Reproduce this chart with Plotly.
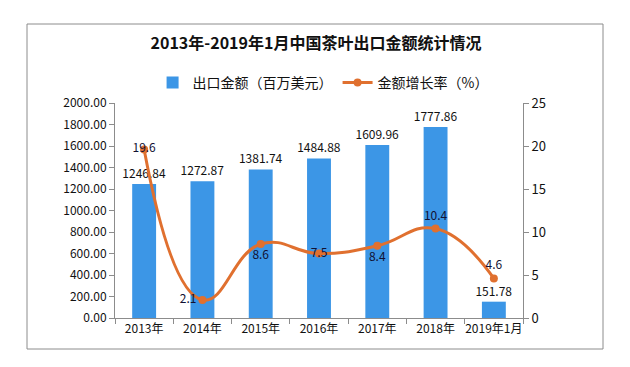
import plotly.graph_objects as go

categories = ["2013年", "2014年", "2015年", "2016年", "2017年", "2018年", "2019年1月"]
export_values = [1246.84, 1272.87, 1381.74, 1484.88, 1609.96, 1777.86, 151.78]
growth_rates = [19.6, 2.1, 8.6, 7.5, 8.4, 10.4, 4.6]
y1_ticks = [0, 200, 400, 600, 800, 1000, 1200, 1400, 1600, 1800, 2000]
y1_ticktext = ["%.2f" % v for v in y1_ticks]
y2_ticks = [0, 5, 10, 15, 20, 25]

FONT = "Noto Sans CJK SC"
BLUE = "#3C96E6"
ORANGE = "#E0702F"
AXIS = "#8C8C8C"

fig = go.Figure()
fig.add_trace(go.Bar(
    x=categories, y=export_values, name="出口金额（百万美元）",
    marker=dict(color=BLUE, line=dict(width=0)), width=0.41,
    text=["%.2f" % v for v in export_values], textposition="outside",
    constraintext="none",
    textfont=dict(size=12, color="#111111", family=FONT), cliponaxis=False,
))
fig.add_trace(go.Scatter(
    x=categories, y=growth_rates, name="金额增长率（%）", yaxis="y2",
    mode="lines+markers+text", line=dict(color=ORANGE, width=3, shape="spline", smoothing=1.3),
    marker=dict(color=ORANGE, size=8),
    text=[str(v) for v in growth_rates],
    textposition=["middle center", "middle left", "bottom center", "middle center",
                  "bottom center", "top center", "top center"],
    textfont=dict(size=12, color="#111133", family=FONT), cliponaxis=False,
))

fig.update_layout(
    width=630, height=367,
    margin=dict(l=107, r=115, t=95, b=57),
    paper_bgcolor="white", plot_bgcolor="white",
    font=dict(family=FONT, size=12, color="#111111"),
    title=dict(text="<b>2013年-2019年1月中国茶叶出口金额统计情况</b>",
               x=(308 / 630), xanchor="center", y=1 - 35 / 367, yanchor="middle",
               font=dict(size=16, color="#111111", family=FONT)),
    showlegend=True,
    legend=dict(orientation="h", x=0.51, xanchor="center", y=1.093, yanchor="middle",
                font=dict(size=14, family=FONT), bgcolor="rgba(0,0,0,0)",
                itemwidth=30),
    bargap=0.59,
    xaxis=dict(type="category", showline=True, linecolor=AXIS, linewidth=1,
               ticks="outside", ticklen=5, tickcolor=AXIS, tickson="boundaries",
               tickangle=0, showgrid=False, tickfont=dict(size=12), zeroline=False),
    yaxis=dict(range=[0, 2000], tickvals=y1_ticks, ticktext=y1_ticktext,
               showline=True, linecolor=AXIS, linewidth=1, ticks="outside", ticklen=5,
               tickcolor=AXIS, showgrid=False, zeroline=False, tickfont=dict(size=12)),
    yaxis2=dict(range=[0, 25], tickvals=y2_ticks, overlaying="y", side="right",
                showline=True, linecolor=AXIS, linewidth=1, ticks="outside", ticklen=5,
                tickcolor=AXIS, showgrid=False, zeroline=False, tickfont=dict(size=13)),
    shapes=[dict(type="rect", xref="paper", yref="paper",
                 x0=(19 - 107) / 408, x1=(595 - 107) / 408,
                 y0=(310 - 341) / 215, y1=(310 - 16) / 215,
                 line=dict(color="#8C8C8C", width=1), fillcolor="rgba(0,0,0,0)",
                 layer="below")],
)

fig.write_html("out.html")
